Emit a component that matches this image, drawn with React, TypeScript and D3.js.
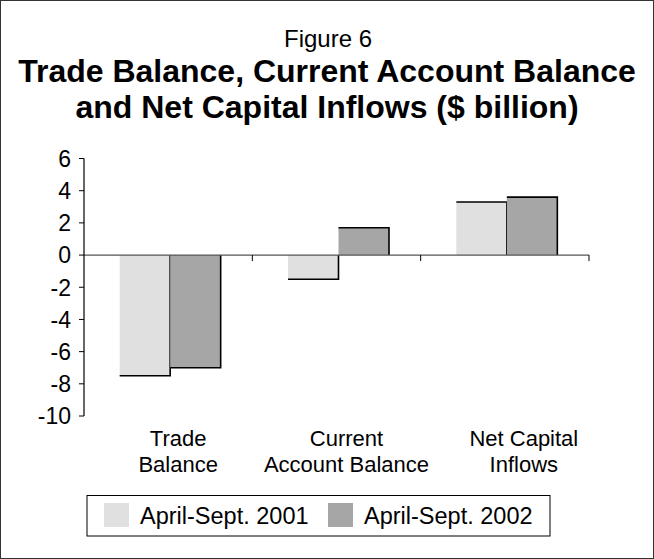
import React from "react";
import * as d3 from "d3";

const categories = [["Trade", "Balance"], ["Current", "Account Balance"], ["Net Capital", "Inflows"]];
const categoryKeys = ["Trade Balance", "Current Account Balance", "Net Capital Inflows"];
const seriesNames = ["April-Sept. 2001", "April-Sept. 2002"];
const values2001 = [-7.5, -1.5, 3.3];
const values2002 = [-7.0, 1.7, 3.6];
const yTicks = [6, 4, 2, 0, -2, -4, -6, -8, -10];

const W = 654;
const H = 559;
const colors = ["#e0e0e0", "#a6a6a6"];
const FONT = "Arial, 'Liberation Sans', Helvetica, sans-serif";
const labelShift = [10, 10, 19];

export default function App() {
  const left = 84, right = 589, top = 158.5, bottom = 416;
  const y = d3.scaleLinear().domain([-10, 6]).range([bottom, top]);
  const x0 = d3.scaleBand().domain(categoryKeys).range([left, right]).padding(0);
  const bw = x0.bandwidth();
  const x1 = d3.scaleBand().domain(seriesNames).range([bw * 0.2 + 2, bw * 0.8 + 2]).padding(0);
  const series = [values2001, values2002];
  const y0 = y(0);

  return (
    <div style={{ position: "absolute", left: 0, top: 0 }}>
      <svg width={W} height={H} style={{ display: "block", fontFamily: FONT }}>
        <rect x={0} y={0} width={W} height={H} fill="#ffffff" />
        <rect x={0.5} y={0.5} width={W - 1} height={H - 1} fill="none" stroke="#333" strokeWidth={1} />
        <text x={328} y={47} textAnchor="middle" fontSize={24} fill="#000">Figure 6</text>
        <text x={327} y={82} textAnchor="middle" fontSize={32} fontWeight="bold" fill="#000">Trade Balance, Current Account Balance</text>
        <text x={327} y={118} textAnchor="middle" fontSize={32} fontWeight="bold" fill="#000">and Net Capital Inflows ($ billion)</text>

        {/* bars */}
        {categoryKeys.map((c, ci) =>
          seriesNames.map((s, si) => {
            const v = series[si][ci];
            const bx = (x0(c) as number) + (x1(s) as number);
            const w = x1.bandwidth();
            const yv = y(v);
            const ry = Math.min(yv, y0);
            const rh = Math.abs(yv - y0);
            return (
              <g key={c + s}>
                <rect x={bx} y={ry} width={w} height={rh} fill={colors[si]} />
                <path
                  d={`M${bx},${yv}L${bx + w},${yv}L${bx + w},${y0}`}
                  fill="none"
                  stroke="#000"
                  strokeWidth={1.6}
                />
              </g>
            );
          })
        )}

        {/* zero line */}
        <line x1={left} x2={right} y1={y0} y2={y0} stroke="#555" strokeWidth={1.2} />
        {categoryKeys.map((c) => {
          const bx = (x0(c) as number) + bw;
          return <line key={"t" + c} x1={bx} x2={bx} y1={y0} y2={y0 + 6} stroke="#000" strokeWidth={1} />;
        })}

        {/* y axis */}
        <line x1={left} x2={left} y1={top} y2={bottom} stroke="#000" strokeWidth={1.2} />
        {yTicks.map((t) => (
          <g key={"y" + t}>
            <line x1={left - 5} x2={left} y1={y(t)} y2={y(t)} stroke="#000" strokeWidth={1} />
            <text x={left - 13} y={y(t)} dy="0.36em" textAnchor="end" fontSize={23} fill="#000">
              {t}
            </text>
          </g>
        ))}

        {/* category labels */}
        {categoryKeys.map((c, ci) => {
          const cx = (x0(c) as number) + bw / 2 + labelShift[ci];
          return (
            <text key={"c" + c} x={cx} textAnchor="middle" fontSize={22} fill="#000">
              <tspan x={cx} y={446}>{categories[ci][0]}</tspan>
              <tspan x={cx} y={472}>{categories[ci][1]}</tspan>
            </text>
          );
        })}

        {/* legend */}
        <rect x={87} y={495.5} width={463} height={40.5} fill="#fff" stroke="#000" strokeWidth={1} />
        {seriesNames.map((s, i) => {
          const sx = i === 0 ? 104 : 328;
          return (
            <g key={"l" + s}>
              <rect x={sx} y={503} width={25} height={24} fill={colors[i]} />
              <text x={sx + 36} y={524} fontSize={23.5} fill="#000">{s}</text>
            </g>
          );
        })}
      </svg>
    </div>
  );
}
